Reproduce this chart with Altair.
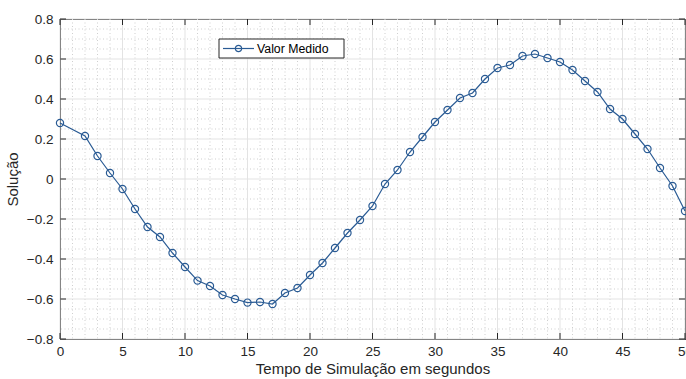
import altair as alt
import pandas as pd

# Measured solution over the simulation time
tempo = [0, 2, 3, 4, 5, 6, 7, 8, 9, 10, 11, 12, 13, 14, 15, 16, 17, 18, 19, 20,
         21, 22, 23, 24, 25, 26, 27, 28, 29, 30, 31, 32, 33, 34, 35, 36, 37, 38,
         39, 40, 41, 42, 43, 44, 45, 46, 47, 48, 49, 50]
valor = [0.28, 0.215, 0.115, 0.03, -0.05, -0.15, -0.24, -0.29, -0.37, -0.44,
         -0.508, -0.535, -0.58, -0.60, -0.618, -0.615, -0.625, -0.57, -0.545, -0.48,
         -0.42, -0.345, -0.27, -0.205, -0.135, -0.025, 0.045, 0.135, 0.21, 0.285,
         0.345, 0.405, 0.43, 0.50, 0.555, 0.57, 0.615, 0.625, 0.605, 0.585,
         0.545, 0.49, 0.435, 0.35, 0.30, 0.225, 0.15, 0.055, -0.035, -0.16]

x_major = [0, 5, 10, 15, 20, 25, 30, 35, 40, 45, 50]
y_major = [-0.8, -0.6, -0.4, -0.2, 0, 0.2, 0.4, 0.6, 0.8]
x_minor = [v for v in range(0, 51) if v % 5]
y_minor = [round(-0.8 + 0.05 * i, 2) for i in range(33) if i % 4]

x_title = "Tempo de Simulação em segundos"
y_title = "Solução"
legend_label = "Valor Medido"

W, H = 625, 320
AX = "#262626"
BLUE = "#2a5b94"
FONT = "Liberation Sans"

df = pd.DataFrame({"t": tempo, "v": valor})
xs = alt.Scale(domain=[0, 50], nice=False, zero=False)
ys = alt.Scale(domain=[-0.8, 0.8], nice=False, zero=False)

# One shared axis definition per direction so that layers merge cleanly
x_axis = alt.Axis(values=x_major, grid=False, ticks=False, labelPadding=5,
                  titlePadding=4, labelFlush=False, labelOverlap=False)
y_axis = alt.Axis(values=y_major, grid=False, ticks=False, labelPadding=7,
                  titlePadding=6, format=".1~f", labelFlush=False, labelOverlap=False)


def gx(field="x:Q"):
    return alt.X(field, scale=xs, axis=x_axis, title=x_title)


def gy(field="y:Q"):
    return alt.Y(field, scale=ys, axis=y_axis, title=y_title)


xdf_min = pd.DataFrame({"x": x_minor})
ydf_min = pd.DataFrame({"y": y_minor})
xdf_maj = pd.DataFrame({"x": x_major})
ydf_maj = pd.DataFrame({"y": y_major})

# Minor (dotted) and major (solid) grid
gx_min = alt.Chart(xdf_min).mark_rule(color="#cfcfcf", strokeDash=[1, 2.5], strokeWidth=1).encode(x=gx())
gy_min = alt.Chart(ydf_min).mark_rule(color="#cfcfcf", strokeDash=[1, 2.5], strokeWidth=1).encode(y=gy())
gx_maj = alt.Chart(xdf_maj).mark_rule(color="#e3e3e3", strokeWidth=1).encode(x=gx())
gy_maj = alt.Chart(ydf_maj).mark_rule(color="#e3e3e3", strokeWidth=1).encode(y=gy())

# Inward ticks on all four sides
tick_b = alt.Chart(xdf_maj).mark_rule(color=AX).encode(x=gx(), y=alt.value(H), y2=alt.value(H - 6))
tick_t = alt.Chart(xdf_maj).mark_rule(color=AX).encode(x=gx(), y=alt.value(0), y2=alt.value(6))
tick_l = alt.Chart(ydf_maj).mark_rule(color=AX).encode(y=gy(), x=alt.value(0), x2=alt.value(6))
tick_r = alt.Chart(ydf_maj).mark_rule(color=AX).encode(y=gy(), x=alt.value(W), x2=alt.value(W - 6))

base = alt.Chart(df).encode(x=gx("t:Q"), y=gy("v:Q"))
line = base.mark_line(color=BLUE, strokeWidth=1.2)
pts = base.mark_point(shape="circle", filled=False, color=BLUE, size=52, strokeWidth=1.2, opacity=1)

# Legend box
leg = pd.DataFrame({"label": [legend_label]})
leg_box = alt.Chart(leg).mark_rect(fill="white", stroke=AX, strokeWidth=1).encode(
    x=alt.value(159), x2=alt.value(284), y=alt.value(20), y2=alt.value(39))
leg_line = alt.Chart(leg).mark_rule(color=BLUE, strokeWidth=1.2).encode(
    x=alt.value(163), x2=alt.value(194), y=alt.value(29.5))
leg_pt = alt.Chart(leg).mark_point(shape="circle", filled=False, color=BLUE, size=40,
                                   strokeWidth=1.2, opacity=1).encode(
    x=alt.value(178.5), y=alt.value(29.5))
leg_txt = alt.Chart(leg).mark_text(align="left", baseline="middle", font=FONT, fontSize=12.3,
                                   color="#000000").encode(
    x=alt.value(197), y=alt.value(30), text="label:N")

chart = alt.layer(
    gx_min, gy_min, gx_maj, gy_maj, line, pts,
    tick_b, tick_t, tick_l, tick_r,
    leg_box, leg_line, leg_pt, leg_txt,
).properties(
    width=W, height=H,
    autosize=alt.AutoSizeParams(type="none"),
    padding={"left": 60, "top": 19, "right": 1, "bottom": 40},
    background="white",
).configure_view(
    stroke=AX, strokeWidth=1
).configure_axis(
    domainColor=AX, labelColor=AX, titleColor=AX,
    labelFont=FONT, titleFont=FONT, labelFontSize=13.5, titleFontSize=15,
    titleFontWeight="normal",
)

chart.save("out.html", embed_options={"renderer": "svg", "actions": False})
